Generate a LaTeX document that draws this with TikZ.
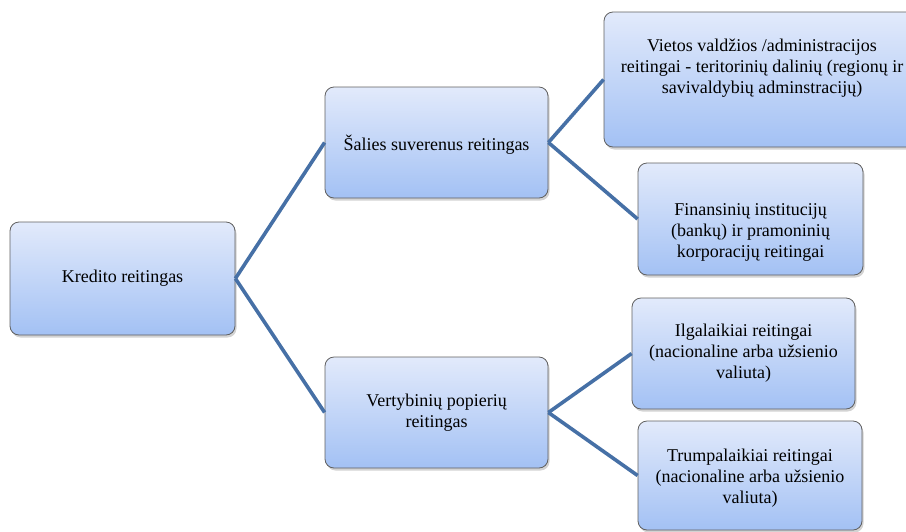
\documentclass[tikz,border=0pt]{standalone}
\usepackage{fontspec}
\setmainfont{Liberation Serif}
\usetikzlibrary{shadows}
\definecolor{linija}{RGB}{70,112,166}
\definecolor{virsus}{RGB}{226,234,251}
\definecolor{apacia}{RGB}{163,193,244}

\begin{document}
\begin{tikzpicture}[x=1pt, y=-1pt, font=\fontsize{18}{21}\selectfont,
	   box/.style={draw=gray!75!black, line width=0.8pt, rounded corners=9pt, inner sep=0pt,
	     top color=virsus, bottom color=apacia,
	     drop shadow={shadow xshift=1.5pt, shadow yshift=-2.5pt, opacity=0.35}},
	   t/.style={align=center, inner sep=0pt},
	   lnk/.style={draw=linija, line width=3.6pt}]
	  \useasboundingbox (0,0) rectangle (906,531);
	  \clip (0,0) rectangle (906,531);
	  % boxes
	  \node[box, minimum width=225pt, minimum height=113pt] (kredito) at (122.5,278.5) {};
	  \node[box, minimum width=223pt, minimum height=111pt] (salies) at (436.5,142.5) {};
	  \node[box, minimum width=223pt, minimum height=111pt] (vertyb) at (436.5,412.5) {};
	  \node[box, minimum width=316pt, minimum height=135pt] (vietos) at (762,79.5) {};
	  \node[box, minimum width=225pt, minimum height=112pt] (finans) at (750.5,219) {};
	  \node[box, minimum width=223pt, minimum height=111pt] (ilgal) at (743.5,353.5) {};
	  \node[box, minimum width=224pt, minimum height=109pt] (trump) at (750,475.5) {};
	  % texts
	  \node[t] (kredito-t) at (kredito) {Kredito reitingas};
	  \node[t] (salies-t) at ([yshift=-2pt]salies.center) {Šalies suverenus reitingas};
	  \node[t] (vertyb-t) at (vertyb) {Vertybinių popierių\\ reitingas};
	  \node[t] (vietos-t) at ([yshift=11.5pt]vietos.center) {Vietos valdžios /administracijos\\ reitingai - teritorinių dalinių (regionų ir\\ savivaldybių adminstracijų)};
	  \node[t] (finans-t) at ([yshift=-13pt]finans.center) {Finansinių institucijų\\ (bankų) ir pramoninių\\ korporacijų reitingai};
	  \node[t] (ilgal-t) at (ilgal) {Ilgalaikiai reitingai\\ (nacionaline arba užsienio\\ valiuta)};
	  \node[t] (trump-t) at ([yshift=-2.5pt]trump.center) {Trumpalaikiai reitingai\\ (nacionaline arba užsienio\\ valiuta)};
	  % connectors
	  \draw[lnk] (kredito.east) -- (salies.west);
	  \draw[lnk] (kredito.east) -- (vertyb.west);
	  \draw[lnk] (salies.east) -- (vietos.west);
	  \draw[lnk] (salies.east) -- (finans.west);
	  \draw[lnk] (vertyb.east) -- (ilgal.west);
	  \draw[lnk] (vertyb.east) -- (trump.west);
	\end{tikzpicture}
\end{document}
